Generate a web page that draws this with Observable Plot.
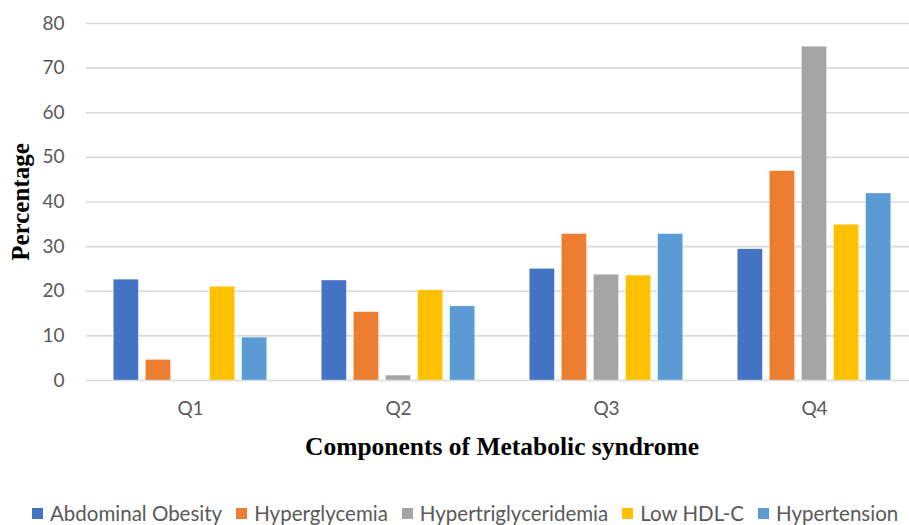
<!DOCTYPE html>
<html>
<head>
<meta charset="utf-8">
<script src="https://cdn.jsdelivr.net/npm/d3@7"></script>
<script src="https://cdn.jsdelivr.net/npm/@observablehq/plot@0.6"></script>
<style>
  html, body { margin: 0; padding: 0; background: #fff; }
  #wrap { width: 909px; height: 525px; overflow: hidden; position: relative; }
  #chart svg { max-width: none !important; }
  #legend { position: absolute; left: 32px; top: 500px; width: 877px; display: flex; justify-content: flex-start; gap: 14px;
    font-family: Lato, "Noto Sans", sans-serif; font-size: 20.5px; color: #595959; line-height: 26px; }
  #legend .item { display: flex; align-items: center; gap: 7px; white-space: nowrap; }
  #legend .sw { width: 11px; height: 11px; display: inline-block; }
</style>
</head>
<body>
<div id="wrap"><div id="chart"></div><div id="legend"></div></div>
<script>
const quarters = ["Q1", "Q2", "Q3", "Q4"];
const series = ["Abdominal Obesity", "Hyperglycemia", "Hypertriglyceridemia", "Low HDL-C", "Hypertension"];
const colors = ["#4472C4", "#ED7D31", "#A5A5A5", "#FFC000", "#5B9BD5"];
const abdominalObesity = [22.6, 22.4, 25.0, 29.4];
const hyperglycemia = [4.6, 15.3, 32.8, 46.9];
const hypertriglyceridemia = [0, 1.1, 23.7, 74.8];
const lowHDL = [21.0, 20.2, 23.5, 34.9];
const hypertension = [9.6, 16.6, 32.8, 41.9];
const yTicks = [0, 10, 20, 30, 40, 50, 60, 70, 80];

const seriesValues = [abdominalObesity, hyperglycemia, hypertriglyceridemia, lowHDL, hypertension];
const data = [];
quarters.forEach((q, qi) => series.forEach((s, si) => data.push({quarter: q, series: s, value: seriesValues[si][qi]})));

const W = 919, H = 490;
const chart = Plot.plot({
  width: W,
  height: H,
  marginLeft: 85,
  marginRight: 0,
  marginTop: 23,
  marginBottom: 110,
  style: {fontFamily: "Lato, 'Noto Sans', sans-serif", fontSize: "19px", color: "#595959", background: "#fff", maxWidth: "none"},
  fx: {domain: quarters, padding: 0, label: null},
  x: {domain: series, paddingInner: 0.21875, paddingOuter: 0.85, round: false, axis: null},
  y: {domain: [0, 80], ticks: yTicks, label: null},
  color: {domain: series, range: colors},
  marks: [
    Plot.ruleY(yTicks, {stroke: "#D9D9D9", strokeWidth: 1.6}),
    Plot.barY(data, {fx: "quarter", x: "series", y: "value", fill: "series", stroke: "#fff", strokeWidth: 0.5, strokeOpacity: 0.6}),
    Plot.axisY({ticks: yTicks, tickSize: 0, tickPadding: 22, label: null}),
    Plot.axisFx({anchor: "bottom", tickSize: 0, tickPadding: 21, label: null})
  ]
});
chart.style.maxWidth = "none";
document.getElementById("chart").appendChild(chart);

const svg = d3.select(chart);
svg.append("text")
  .attr("x", 502).attr("y", 455)
  .attr("text-anchor", "middle")
  .attr("font-family", "'Liberation Serif', 'Times New Roman', serif")
  .attr("font-weight", "bold").attr("font-size", 25.5).attr("fill", "#000")
  .text("Components of Metabolic syndrome");
svg.append("text")
  .attr("transform", "translate(29,202) rotate(-90)")
  .attr("text-anchor", "middle")
  .attr("font-family", "'Liberation Serif', 'Times New Roman', serif")
  .attr("font-weight", "bold").attr("font-size", 25).attr("fill", "#000")
  .text("Percentage");

const legend = d3.select("#legend");
series.forEach((s, i) => {
  const it = legend.append("div").attr("class", "item");
  it.append("span").attr("class", "sw").style("background", colors[i]);
  it.append("span").text(s);
});
</script>
</body>
</html>
